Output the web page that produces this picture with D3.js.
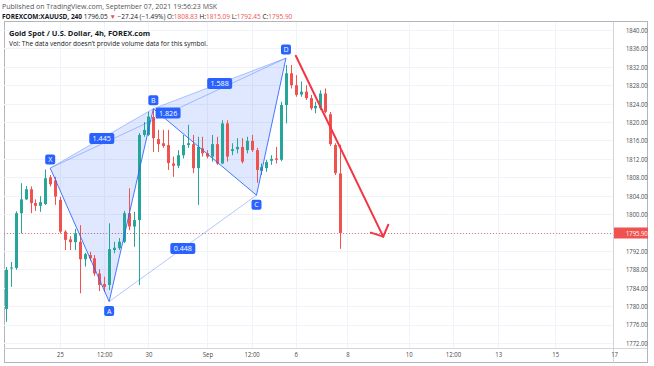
<!DOCTYPE html>
<html><head><meta charset="utf-8">
<script src="https://cdn.jsdelivr.net/npm/d3@7"></script>
<style>html,body{margin:0;padding:0;background:#fff;}svg{display:block;font-family:"Open Sans",sans-serif;}</style>
</head><body><svg id="c" width="654" height="366"></svg>
<script>
// ---- data ----
const opens  = [1779.4,1788.2,1788.3,1800.2,1803.2,1805.4,1802.4,1801.8,1802.2,1808.0,1807.3,1803.1,1796.2,1794.5,1793.9,1794.0,1790.2,1791.1,1790.4,1787.1,1784.8,1784.6,1792.2,1792.6,1794.0,1800.2,1797.3,1798.7,1817.2,1817.2,1821.1,1816.3,1815.4,1815.0,1811.0,1810.5,1812.8,1815.0,1815.2,1810.0,1814.3,1813.2,1812.5,1815.2,1811.0,1819.7,1813.7,1814.1,1814.6,1813.9,1815.9,1813.9,1809.4,1810.0,1811.6,1812.1,1811.8,1823.7,1830.6,1828.0,1826.0,1826.6,1825.2,1823.0,1823.0,1826.2,1821.7,1815.0,1808.83];
const highs  = [1788.5,1789.6,1800.6,1806.7,1806.1,1806.0,1803.2,1803.9,1809.7,1808.5,1808.1,1803.8,1796.5,1795.2,1796.8,1797.6,1791.6,1791.8,1791.1,1788.0,1786.4,1798.0,1794.0,1794.8,1800.7,1805.6,1800.5,1817.6,1820.0,1822.2,1822.8,1818.3,1818.3,1818.3,1812.5,1813.9,1817.2,1819.4,1817.2,1816.8,1816.8,1813.9,1817.2,1816.8,1820.4,1820.4,1815.4,1816.5,1816.5,1816.8,1817.2,1814.4,1811.0,1811.8,1812.8,1814.6,1824.4,1832.4,1832.4,1830.2,1828.8,1828.0,1825.9,1824.4,1826.9,1827.3,1822.2,1815.4,1815.09];
const lows   = [1776.6,1784.2,1787.9,1795.8,1803.1,1800.2,1800.7,1800.5,1802.0,1806.0,1802.0,1795.8,1792.2,1792.2,1792.2,1782.8,1788.6,1789.8,1786.6,1783.3,1783.1,1783.5,1791.5,1792.2,1793.7,1796.5,1792.9,1784.6,1816.8,1817.0,1813.5,1813.5,1814.4,1809.6,1808.1,1810.0,1812.1,1814.4,1808.9,1802.0,1812.5,1812.1,1811.4,1810.7,1810.9,1811.4,1812.8,1813.2,1811.0,1813.2,1813.5,1806.8,1808.5,1809.2,1810.7,1811.0,1811.5,1819.7,1827.3,1825.5,1825.5,1824.8,1822.6,1821.9,1822.6,1821.9,1814.8,1808.5,1792.45];
const closes = [1787.9,1788.4,1800.2,1803.2,1805.4,1802.4,1801.8,1802.6,1807.8,1806.5,1803.8,1796.2,1794.4,1793.9,1795.8,1790.2,1791.3,1790.4,1787.1,1784.6,1784.2,1792.4,1792.7,1794.0,1800.2,1797.3,1798.7,1817.2,1818.3,1821.2,1816.5,1815.2,1814.8,1811.1,1810.5,1812.8,1815.0,1815.4,1810.0,1814.6,1813.2,1812.5,1815.2,1811.0,1819.7,1812.5,1814.1,1814.6,1811.4,1815.9,1813.9,1809.6,1810.2,1811.3,1812.0,1811.8,1823.7,1830.6,1828.0,1825.9,1826.6,1825.2,1823.0,1823.5,1826.2,1822.2,1815.2,1808.9,1795.90];

const priceTicks = [1772,1776,1780,1784,1788,1792,1796,1800,1804,1808,1812,1816,1820,1824,1828,1832,1836,1840];
const timeTickIndex  = [11, 20, 29, 41, 50, 59, 69.5, 82, 91, 100.2, 111.8, 123.8];
const timeTickLabels = ["25","12:00","30","Sep","12:00","6","8","10","12:00","13","15","17"];

const patternNames = ["X","A","B","C","D"];
const patternIndex = [9, 21, 30, 51, 57];
const patternPrice = [1810.0, 1781.0, 1822.9, 1804.1, 1833.9];
const ratioPairs  = [["X","B"],["A","C"],["B","D"],["X","D"]];
const ratioLabels = ["1.445","0.448","1.588","1.826"];

const arrowIndex = [59.0, 76.8];
const arrowPrice = [1834.4, 1795.1];
const lastPrice = 1795.90;

const headerLine1 = "Published on TradingView.com, September 07, 2021 19:56:23 MSK";
const symbolText = "FOREXCOM:XAUUSD, 240";
const quoteParts = [["1796.05 ","#131722"],["\u25BC","#ef5350"],[" \u221227.24 (\u22121.49%) ","#131722"],["O:","#131722"],["1808.83 ","#ef5350"],["H:","#131722"],["1815.09 ","#ef5350"],["L:","#131722"],["1792.45 ","#ef5350"],["C:","#131722"],["1795.90","#ef5350"]];
const titleText = "Gold Spot / U.S. Dollar, 4h, FOREX.com";
const volText = "Vol: The data vendor doesn\u2019t provide volume data for this symbol.";

// ---- layout ----
const UP = "#26a69a", DOWN = "#ef5350", BLUE = "#2962ff";
const plot = {l: 4, r: 613, t: 22, b: 348};
const svg = d3.select("#c");
const x = d3.scaleLinear().domain([0, 68]).range([6, 340]);
const y = d3.scaleLinear().domain([1772, 1840]).range([343, 30]);

// narrow the axis labels horizontally, like the reference's condensed face
function squeeze(sel, k) {
  sel.each(function() {
    const w = this.getComputedTextLength();
    d3.select(this).attr("textLength", w * k).attr("lengthAdjust", "spacingAndGlyphs");
  });
}

svg.append("defs").append("clipPath").attr("id","pc")
  .append("rect").attr("x",plot.l).attr("y",plot.t).attr("width",plot.r-plot.l).attr("height",plot.b-plot.t);

// header
svg.append("text").attr("x",2).attr("y",9).attr("font-size",7.0).attr("fill","#555").text(headerLine1);
const h2 = svg.append("text").attr("x",2).attr("y",18.5).attr("font-size",6.5).attr("fill","#131722");
h2.append("tspan").attr("font-weight","bold").text(symbolText + " ");
quoteParts.forEach(p => h2.append("tspan").attr("fill", p[1]).text(p[0]));

// frame
svg.append("rect").attr("x",plot.l+0.5).attr("y",plot.t-0.5).attr("width",647-plot.l).attr("height",363-plot.t)
  .attr("fill","none").attr("stroke","#b2b5be").attr("stroke-width",1);

const g = svg.append("g").attr("clip-path","url(#pc)");

// grid
g.selectAll(".hg").data(priceTicks).join("line")
  .attr("x1",plot.l).attr("x2",plot.r).attr("y1",d=>Math.round(y(d))+0.5).attr("y2",d=>Math.round(y(d))+0.5)
  .attr("stroke","#f0f3fa");
g.selectAll(".vg").data(timeTickIndex).join("line")
  .attr("y1",plot.t).attr("y2",plot.b).attr("x1",d=>Math.round(x(d))+0.5).attr("x2",d=>Math.round(x(d))+0.5)
  .attr("stroke","#f0f3fa");

// last price dotted line
g.append("line").attr("x1",plot.l).attr("x2",plot.r)
  .attr("y1",Math.round(y(lastPrice))+0.5).attr("y2",Math.round(y(lastPrice))+0.5)
  .attr("stroke",DOWN).attr("stroke-dasharray","1,2").attr("opacity",0.8);

// pattern fill
const pt = {};
patternNames.forEach((n,i)=>{ pt[n] = [x(patternIndex[i]), y(patternPrice[i])]; });
const tri = [["X","A","B"],["B","C","D"]];
g.selectAll(".tri").data(tri).join("path")
  .attr("d", d => "M" + d.map(n=>pt[n].join(",")).join("L") + "Z")
  .attr("fill","rgba(41,98,255,0.15)").attr("stroke","none");

// candles
const cw = 3;
const idx = d3.range(opens.length);
g.selectAll(".wick").data(idx).join("line")
  .attr("x1",i=>Math.round(x(i))+0.5).attr("x2",i=>Math.round(x(i))+0.5)
  .attr("y1",i=>y(highs[i])).attr("y2",i=>y(lows[i]))
  .attr("stroke",i=>closes[i]>=opens[i]?UP:DOWN).attr("stroke-width",1);
g.selectAll(".body").data(idx).join("rect")
  .attr("x",i=>Math.round(x(i))-1).attr("width",cw)
  .attr("y",i=>y(Math.max(opens[i],closes[i])))
  .attr("height",i=>Math.max(1, Math.abs(y(opens[i])-y(closes[i]))))
  .attr("fill",i=>closes[i]>=opens[i]?UP:DOWN);

// pattern lines
const edges = [["X","A"],["A","B"],["B","C"],["C","D"]];
g.selectAll(".edge").data(edges).join("line")
  .attr("x1",d=>pt[d[0]][0]).attr("y1",d=>pt[d[0]][1]).attr("x2",d=>pt[d[1]][0]).attr("y2",d=>pt[d[1]][1])
  .attr("stroke",BLUE).attr("stroke-width",1).attr("opacity",0.85);
g.selectAll(".ratioLine").data(ratioPairs).join("line")
  .attr("x1",d=>pt[d[0]][0]).attr("y1",d=>pt[d[0]][1]).attr("x2",d=>pt[d[1]][0]).attr("y2",d=>pt[d[1]][1])
  .attr("stroke",BLUE).attr("stroke-width",1).attr("opacity",0.35);

// ratio labels
ratioPairs.forEach((p,i)=>{
  const cx = (pt[p[0]][0]+pt[p[1]][0])/2, cy = (pt[p[0]][1]+pt[p[1]][1])/2;
  g.append("rect").attr("x",cx-12.5).attr("y",cy-5.5).attr("width",25).attr("height",11).attr("rx",2).attr("fill",BLUE);
  g.append("text").attr("x",cx).attr("y",cy+2.5).attr("text-anchor","middle").attr("font-size",7.2).attr("fill","#fff").text(ratioLabels[i]);
});
// point labels
patternNames.forEach((n,i)=>{
  const below = (n==="A"||n==="C");
  const cx = pt[n][0], cy = pt[n][1] + (below? 9.5 : -8.5);
  g.append("rect").attr("x",cx-5).attr("y",cy-5).attr("width",10).attr("height",10).attr("rx",2).attr("fill",BLUE);
  g.append("text").attr("x",cx).attr("y",cy+2.5).attr("text-anchor","middle").attr("font-size",7).attr("fill","#fff").text(n);
});

// arrow
const ax0 = x(arrowIndex[0]), ay0 = y(arrowPrice[0]), ax1 = x(arrowIndex[1]), ay1 = y(arrowPrice[1]);
const ang = Math.atan2(ay1-ay0, ax1-ax0), hl = 13;
g.append("line").attr("x1",ax0).attr("y1",ay0).attr("x2",ax1).attr("y2",ay1)
  .attr("stroke","#f23645").attr("stroke-width",2).attr("stroke-linecap","round");
[0.85, -0.8].forEach(da=>{
  g.append("line").attr("x1",ax1).attr("y1",ay1)
    .attr("x2",ax1 - hl*Math.cos(ang+da)).attr("y2",ay1 - hl*Math.sin(ang+da))
    .attr("stroke","#f23645").attr("stroke-width",2).attr("stroke-linecap","round");
});

// title texts
svg.append("text").attr("x",9).attr("y",36).attr("font-size",7.5).attr("font-weight","bold").attr("fill","#131722").text(titleText);
svg.append("text").attr("x",9).attr("y",45.5).attr("font-size",6.5).attr("fill","#131722").text(volText);

// axes separators
svg.append("line").attr("x1",plot.r+0.5).attr("x2",plot.r+0.5).attr("y1",plot.t).attr("y2",363).attr("stroke","#d1d4dc");
svg.append("line").attr("x1",plot.l).attr("x2",647).attr("y1",plot.b+0.5).attr("y2",plot.b+0.5).attr("stroke","#d1d4dc");

// price axis (the label under the last-price tag is hidden, as in the reference)
const yAxis = d3.axisRight(y).tickValues(priceTicks.filter(v => Math.abs(v - lastPrice) > 1.5))
  .tickFormat(d3.format(".2f")).tickSize(0).tickPadding(13);
const ya = svg.append("g").attr("transform",`translate(${plot.r},0)`).call(yAxis);
ya.select(".domain").remove();
ya.selectAll("text").attr("font-size",7.5).attr("fill","#4a4a4a").attr("font-family","Open Sans, sans-serif");
squeeze(ya.selectAll("text"), 0.78);

// last price tag
const ly = y(lastPrice);
svg.append("rect").attr("x",plot.r+1).attr("y",ly-5.5).attr("width",34).attr("height",11).attr("fill",DOWN);
const lt = svg.append("text").attr("x",plot.r+13).attr("y",ly+2.6).attr("font-size",7.5)
  .attr("fill","#fff").text(d3.format(".2f")(lastPrice));
squeeze(lt, 0.78);

// time axis
const xAxis = d3.axisBottom(x).tickValues(timeTickIndex).tickFormat((d,i)=>timeTickLabels[i]).tickSize(0).tickPadding(4);
const xa = svg.append("g").attr("transform",`translate(0,${plot.b})`).call(xAxis);
xa.select(".domain").remove();
xa.selectAll("text").attr("font-size",7.5).attr("fill","#4a4a4a").attr("font-family","Open Sans, sans-serif");
squeeze(xa.selectAll("text"), 0.8);
</script></body></html>
